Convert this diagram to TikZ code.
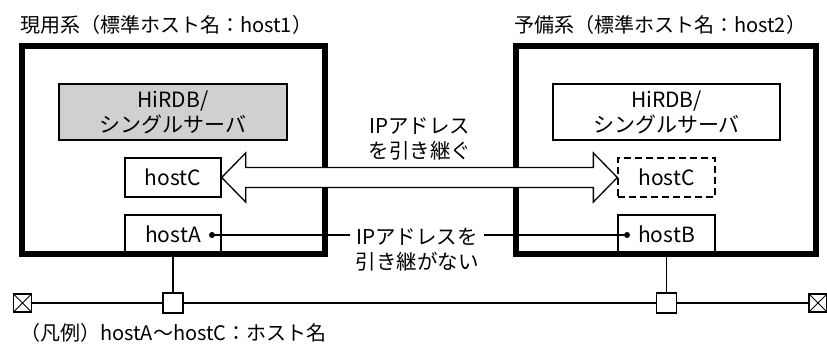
\documentclass[tikz,border=0pt]{standalone}
\usepackage{fontspec}
\setmainfont{Noto Sans CJK JP}
\usetikzlibrary{calc}
\begin{document}
\begin{tikzpicture}[x=1pt,y=-1pt,
  outerbox/.style={draw,line width=6pt,inner sep=0pt},
  box/.style={draw,line width=1.3pt,inner sep=0pt,minimum width=96pt,minimum height=39pt,font=\fontsize{21}{25}\selectfont},
  dbox/.style={box,dash pattern=on 7pt off 4pt},
  dbbox/.style={draw,line width=1.3pt,inner sep=0pt,minimum width=227pt,minimum height=56pt,align=center,font=\fontsize{21}{25}\selectfont},
  lbl/.style={align=center,inner sep=5pt,font=\fontsize{20.5}{25}\selectfont},
  ttl/.style={anchor=west,inner sep=0pt,font=\fontsize{20}{22}\selectfont},
  dot/.style={circle,fill,inner sep=0pt,minimum size=6pt},
  sq/.style={draw,line width=1.3pt,fill=white,minimum size=20pt,inner sep=0pt},
  xbox/.style={draw,line width=1.6pt,minimum size=18pt,inner sep=0pt,
    path picture={\draw[line width=1pt] (path picture bounding box.north west) -- (path picture bounding box.south east)
      (path picture bounding box.north east) -- (path picture bounding box.south west);}},
  wire/.style={line width=1.3pt}]
\useasboundingbox (0,0) rectangle (827,347);
% titles
\node[ttl] (tL) at (20,25) {現用系（標準ホスト名：host1）};
\node[ttl] (tR) at (514,25) {予備系（標準ホスト名：host2）};
% outer system boxes
\node[outerbox,minimum width=303.5pt,minimum height=208pt] (sysL) at (173.25,150) {};
\node[outerbox,minimum width=300pt,minimum height=208pt] (sysR) at (666,150) {};
% HiRDB boxes
\node[dbbox,minimum width=228pt,fill={rgb,255:red,208;green,208;blue,208}] (dbL) at (173,112) {HiRDB/\\シングルサーバ};
\node[dbbox] (dbR) at (666.5,112) {HiRDB/\\シングルサーバ};
% host boxes
\node[box] (hcL) at (173,177.5) {hostC};
\node[dbox,minimum width=97pt] (hcR) at (666.5,177.5) {hostC};
\node[box] (hA) at (173,234.5) {hostA};
\node[box,minimum width=97pt] (hB) at (666.5,234.5) {hostB};
% IP address takeover arrow
\draw[wire,fill=white,line join=miter] (hcL.east) -- ++(24,-24.5) -- ++(0,14.5)
  -- ($(hcR.west)+(-24,-10)$) -- ++(0,-14.5) -- (hcR.west) -- ++(-24,24.5) -- ++(0,-14.5)
  -- ($(hcL.east)+(24,10)$) -- ++(0,14.5) -- cycle;
\node[lbl] (l1) at (420,139) {IPアドレス\\を引き継ぐ};
% non-takeover
\node[dot] (dA) at (212,235) {};
\node[dot] (dB) at (627,235) {};
\node[lbl] (l2) at (417,250) {IPアドレスを\\引き継がない};
\draw[wire] (dA) -- (dA -| l2.west);
\draw[wire] (dB) -- (dB -| l2.east);
% LAN
\node[xbox] (xb1) at (22.5,303) {};
\node[sq] (s1) at (173,303) {};
\node[sq] (s2) at (666.5,303) {};
\node[xbox] (xb2) at (818,303) {};
\draw[wire] (hA.south) -- (s1.north);
\draw[wire] (hB.south) -- (s2.north);
\draw[wire] (xb1) -- (s1);
\draw[wire] (s1) -- (s2);
\draw[wire] (s2) -- (xb2);
% legend
\node[ttl] (leg) at (20,333) {（凡例）hostA〜hostC：ホスト名};
\end{tikzpicture}
\end{document}
